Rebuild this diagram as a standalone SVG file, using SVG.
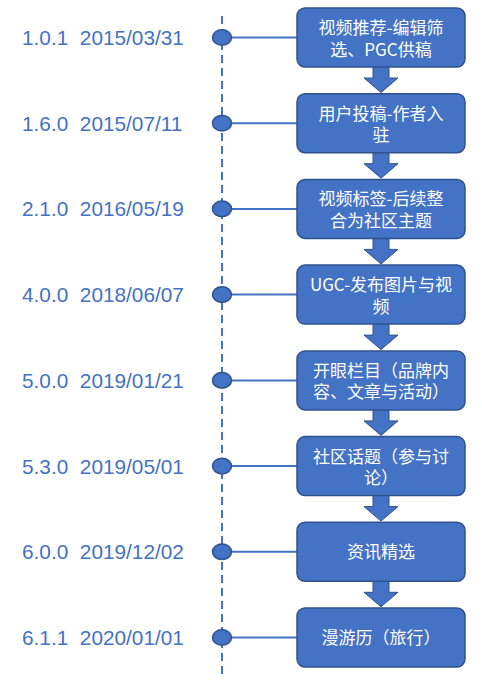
<svg xmlns="http://www.w3.org/2000/svg" width="482" height="692" viewBox="0 0 482 692">
<style>
.lbl{font-family:"Liberation Sans",Arial,sans-serif;font-size:20.8px;fill:#4472C4;white-space:pre}
.box{fill:#4472C4;stroke:#2F528F;stroke-width:1.5}
.bt{font-family:"Noto Sans CJK SC","Liberation Sans",sans-serif;font-size:17px;fill:#FFFFFF;text-anchor:middle}
.dot{fill:#4472C4;stroke:#2F528F;stroke-width:1.5}
.hl{stroke:#4472C4;stroke-width:2}
.arr{fill:#4472C4;stroke:#2F528F;stroke-width:1}
</style>
<rect width="482" height="692" fill="#FFFFFF"/>
<g id="connectors">
<line x1="222" y1="16" x2="222" y2="678" stroke="#4472C4" stroke-width="2" stroke-dasharray="8 5"/>
<line class="hl" x1="231" y1="37.5" x2="297" y2="37.5"/>
<line class="hl" x1="231" y1="123.2" x2="297" y2="123.2"/>
<line class="hl" x1="231" y1="208.9" x2="297" y2="208.9"/>
<line class="hl" x1="231" y1="294.6" x2="297" y2="294.6"/>
<line class="hl" x1="231" y1="380.4" x2="297" y2="380.4"/>
<line class="hl" x1="231" y1="466.1" x2="297" y2="466.1"/>
<line class="hl" x1="231" y1="551.8" x2="297" y2="551.8"/>
<line class="hl" x1="231" y1="637.5" x2="297" y2="637.5"/>
<path class="arr" d="M373,66 H389 V78 H398 L381,92.5 L364,78 H373 Z"/>
<path class="arr" d="M373,151.7 H389 V163.7 H398 L381,178.2 L364,163.7 H373 Z"/>
<path class="arr" d="M373,237.4 H389 V249.4 H398 L381,263.9 L364,249.4 H373 Z"/>
<path class="arr" d="M373,323.1 H389 V335.1 H398 L381,349.6 L364,335.1 H373 Z"/>
<path class="arr" d="M373,408.9 H389 V420.9 H398 L381,435.4 L364,420.9 H373 Z"/>
<path class="arr" d="M373,494.6 H389 V506.6 H398 L381,521.1 L364,506.6 H373 Z"/>
<path class="arr" d="M373,580.3 H389 V592.3 H398 L381,606.8 L364,592.3 H373 Z"/>
</g>
<g id="n1">
<text class="lbl" x="22" y="45" xml:space="preserve">1.0.1  2015/03/31</text>
<ellipse class="dot" cx="222" cy="37.5" rx="9.5" ry="7.8"/>
<rect class="box" x="297" y="8" width="168" height="59" rx="8"/>
<text class="bt" x="381" y="34">视频推荐-编辑筛</text>
<text class="bt" x="381" y="55.5">选、PGC供稿</text>
</g>
<g id="n2">
<text class="lbl" x="22" y="130.7" xml:space="preserve">1.6.0  2015/07/11</text>
<ellipse class="dot" cx="222" cy="123.2" rx="9.5" ry="7.8"/>
<rect class="box" x="297" y="93.7" width="168" height="59" rx="8"/>
<text class="bt" x="381" y="119.7">用户投稿-作者入</text>
<text class="bt" x="381" y="141.2">驻</text>
</g>
<g id="n3">
<text class="lbl" x="22" y="216.4" xml:space="preserve">2.1.0  2016/05/19</text>
<ellipse class="dot" cx="222" cy="208.9" rx="9.5" ry="7.8"/>
<rect class="box" x="297" y="179.4" width="168" height="59" rx="8"/>
<text class="bt" x="381" y="205.4">视频标签-后续整</text>
<text class="bt" x="381" y="226.9">合为社区主题</text>
</g>
<g id="n4">
<text class="lbl" x="22" y="302.1" xml:space="preserve">4.0.0  2018/06/07</text>
<ellipse class="dot" cx="222" cy="294.6" rx="9.5" ry="7.8"/>
<rect class="box" x="297" y="265.1" width="168" height="59" rx="8"/>
<text class="bt" x="381" y="291.1">UGC-发布图片与视</text>
<text class="bt" x="381" y="312.6">频</text>
</g>
<g id="n5">
<text class="lbl" x="22" y="387.9" xml:space="preserve">5.0.0  2019/01/21</text>
<ellipse class="dot" cx="222" cy="380.4" rx="9.5" ry="7.8"/>
<rect class="box" x="297" y="350.9" width="168" height="59" rx="8"/>
<text class="bt" x="381" y="376.9">开眼栏目（品牌内</text>
<text class="bt" x="381" y="398.4">容、文章与活动）</text>
</g>
<g id="n6">
<text class="lbl" x="22" y="473.6" xml:space="preserve">5.3.0  2019/05/01</text>
<ellipse class="dot" cx="222" cy="466.1" rx="9.5" ry="7.8"/>
<rect class="box" x="297" y="436.6" width="168" height="59" rx="8"/>
<text class="bt" x="381" y="462.6">社区话题（参与讨</text>
<text class="bt" x="381" y="484.1">论）</text>
</g>
<g id="n7">
<text class="lbl" x="22" y="559.3" xml:space="preserve">6.0.0  2019/12/02</text>
<ellipse class="dot" cx="222" cy="551.8" rx="9.5" ry="7.8"/>
<rect class="box" x="297" y="522.3" width="168" height="59" rx="8"/>
<text class="bt" x="381" y="557.8">资讯精选</text>
</g>
<g id="n8">
<text class="lbl" x="22" y="645" xml:space="preserve">6.1.1  2020/01/01</text>
<ellipse class="dot" cx="222" cy="637.5" rx="9.5" ry="7.8"/>
<rect class="box" x="297" y="608" width="168" height="59" rx="8"/>
<text class="bt" x="381" y="643.5">漫游历（旅行）</text>
</g>
</svg>
